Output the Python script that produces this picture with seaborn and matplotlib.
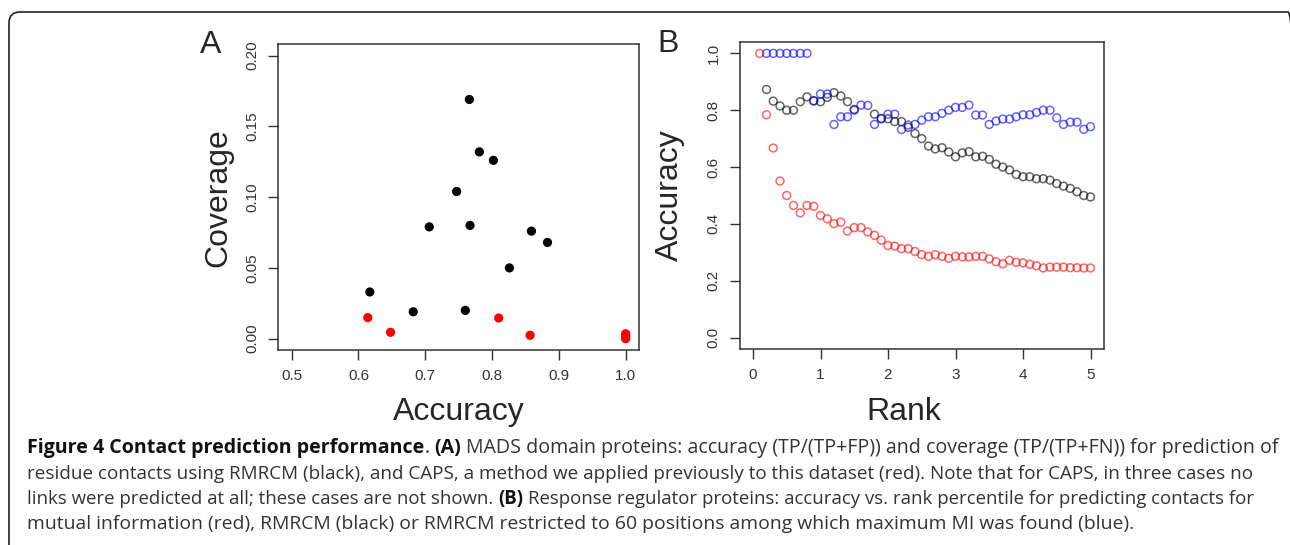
import numpy as np
import pandas as pd
import matplotlib
matplotlib.use("Agg")
import matplotlib.pyplot as plt
from matplotlib.patches import FancyBboxPatch
from matplotlib.transforms import IdentityTransform
import seaborn as sns

# A - MADS domain proteins
acc_rmrcm = [0.617, 0.682, 0.706, 0.747, 0.766, 0.767, 0.760, 0.781, 0.802, 0.826, 0.859, 0.883]
cov_rmrcm = [0.033, 0.019, 0.079, 0.104, 0.169, 0.080, 0.020, 0.132, 0.126, 0.050, 0.076, 0.068]
acc_caps = [0.614, 0.648, 0.810, 0.857, 1.0, 1.0, 1.0]
cov_caps = [0.0149, 0.0045, 0.0146, 0.0024, 0.0035, 0.0017, 0.0]

# B - response regulator proteins
rank = [0.1, 0.2, 0.3, 0.4, 0.5, 0.6, 0.7, 0.8, 0.9, 1.0,
        1.1, 1.2, 1.3, 1.4, 1.5, 1.6, 1.7, 1.8, 1.9, 2.0,
        2.1, 2.2, 2.3, 2.4, 2.5, 2.6, 2.7, 2.8, 2.9, 3.0,
        3.1, 3.2, 3.3, 3.4, 3.5, 3.6, 3.7, 3.8, 3.9, 4.0,
        4.1, 4.2, 4.3, 4.4, 4.5, 4.6, 4.7, 4.8, 4.9, 5.0]
mi_acc = [1.0, 0.784, 0.667, 0.551, 0.5, 0.465, 0.439, 0.465, 0.462, 0.43,
          0.418, 0.401, 0.406, 0.375, 0.387, 0.387, 0.372, 0.36, 0.343, 0.324,
          0.322, 0.313, 0.313, 0.303, 0.292, 0.286, 0.292, 0.286, 0.279, 0.286,
          0.284, 0.284, 0.286, 0.286, 0.277, 0.267, 0.26, 0.272, 0.265, 0.263,
          0.258, 0.253, 0.245, 0.248, 0.248, 0.248, 0.246, 0.246, 0.245, 0.245]
rmrcm_acc = [np.nan, 0.873, 0.832, 0.815, 0.80, 0.80, 0.83, 0.847, 0.833, 0.83,
             0.845, 0.862, 0.85, 0.83, 0.803, np.nan, np.nan, 0.786, 0.77, 0.77,
             0.76, 0.76, 0.74, 0.718, 0.70, 0.674, 0.664, 0.668, 0.653, 0.636,
             0.65, 0.654, 0.636, 0.638, 0.627, 0.61, 0.60, 0.59, 0.574, 0.566,
             0.566, 0.559, 0.559, 0.554, 0.542, 0.533, 0.525, 0.513, 0.50, 0.495]
rmrcm60_acc = [np.nan, 1.0, 1.0, 1.0, 1.0, 1.0, 1.0, 1.0, 0.833, 0.857,
               0.857, 0.75, 0.777, 0.777, 0.80, 0.818, 0.817, 0.75, 0.771, 0.786,
               0.786, 0.732, 0.748, 0.75, 0.765, 0.777, 0.777, 0.789, 0.80, 0.81,
               0.81, 0.818, 0.783, 0.783, 0.75, 0.762, 0.769, 0.769, 0.777, 0.784,
               0.784, 0.792, 0.80, 0.80, 0.773, 0.75, 0.758, 0.758, 0.733, 0.742]

sns.set_theme(style="white")
plt.rcParams["font.family"] = ["Liberation Sans", "DejaVu Sans"]

W, H = 1290, 545
fig = plt.figure(figsize=(W / 100, H / 100), dpi=100)


def px_axes(l, t, r, b):
    return fig.add_axes([l / W, 1 - b / H, (r - l) / W, (b - t) / H])


axA = px_axes(278.3, 44.3, 639, 350)
axB = px_axes(739.5, 42, 1104, 349)

# panel A
sns.scatterplot(x=acc_rmrcm, y=cov_rmrcm, color="black", s=44, edgecolor="none", ax=axA)
sns.scatterplot(x=acc_caps, y=cov_caps, color="red", s=44, edgecolor="none", ax=axA)
axA.set_xlim(0.48, 1.02)
axA.set_ylim(-0.008, 0.208)
axA.set_xticks([0.5, 0.6, 0.7, 0.8, 0.9, 1.0])
axA.set_xticklabels(["0.5", "0.6", "0.7", "0.8", "0.9", "1.0"])
axA.set_yticks([0.0, 0.05, 0.10, 0.15, 0.20])
axA.set_yticklabels(["0.00", "0.05", "0.10", "0.15", "0.20"], rotation=90, va="center")

# panel B
for vals, col in [(mi_acc, (1, 0, 0, 0.6)), (rmrcm_acc, (0, 0, 0, 0.6)), (rmrcm60_acc, (0, 0, 1, 0.6))]:
    sns.scatterplot(x=rank, y=vals, s=32, facecolor="none", edgecolor=col, linewidth=1.1, ax=axB)
axB.set_xlim(-0.2, 5.2)
axB.set_ylim(-0.04, 1.04)
axB.set_xticks([0, 1, 2, 3, 4, 5])
axB.set_xticklabels(["0", "1", "2", "3", "4", "5"])
axB.set_yticks([0.0, 0.2, 0.4, 0.6, 0.8, 1.0])
axB.set_yticklabels(["0.0", "0.2", "0.4", "0.6", "0.8", "1.0"], rotation=90, va="center")

for ax in (axA, axB):
    for sp in ax.spines.values():
        sp.set_color("#333333")
        sp.set_linewidth(1.1)
    ax.tick_params(direction="out", length=7.2, width=1.0, color="#333333",
                   labelsize=11, labelcolor="#333333", pad=6.5, left=True, bottom=True)
    ax.grid(False)

axA.set_xlabel("Accuracy", fontsize=23, va="baseline")
axA.xaxis.set_label_coords(0.5, -(420 - 350) / 305.7)
axA.set_ylabel("Coverage", fontsize=23, va="baseline")
axA.yaxis.set_label_coords((226.5 - 278.3) / 360.7, 0.5)

axB.set_xlabel("Rank", fontsize=23, va="baseline")
axB.xaxis.set_label_coords((904 - 739.5) / 364.5, -(420 - 349) / 307)
axB.set_ylabel("Accuracy", fontsize=23, va="baseline")
axB.yaxis.set_label_coords((678 - 739.5) / 364.5, 0.5)

px = IdentityTransform()
fig.text(200, H - 53.3, "A", fontsize=23, transform=px, va="baseline", ha="left")
fig.text(657, H - 51.7, "B", fontsize=23, transform=px, va="baseline", ha="left")

# outer rounded frame
frame = FancyBboxPatch((9, -40), 1290, H - 12 + 40, boxstyle="round,pad=0,rounding_size=11",
                       transform=px, fill=False, ec="#222222", lw=1.2, clip_on=False)
fig.patches.append(frame)

# caption
cap_lines = [
    [("Figure 4 Contact prediction performance", True, False), (".", False, False),
     ("(A)", True, True), ("MADS domain proteins: accuracy (TP/(TP+FP)) and coverage (TP/(TP+FN)) for prediction of", False, True)],
    [("residue contacts using RMRCM (black), and CAPS, a method we applied previously to this dataset (red). Note that for CAPS, in three cases no", False, False)],
    [("links were predicted at all; these cases are not shown.", False, False), ("(B)", True, True),
     ("Response regulator proteins: accuracy vs. rank percentile for predicting contacts for", False, True)],
    [("mutual information (red), RMRCM (black) or RMRCM restricted to 60 positions among which maximum MI was found (blue).", False, False)],
]
baselines = [453, 479, 504, 529]
line_ends = [1278, 1246, 1250, 1130]
cap_font = ["Open Sans", "DejaVu Sans"]
renderer = fig.canvas.get_renderer()


def draw_line(parts, y, size, draw=True):
    x = 27
    probe = fig.text(0, 0, "x x", fontsize=size, family=cap_font)
    probe2 = fig.text(0, 0, "xx", fontsize=size, family=cap_font)
    sp = probe.get_window_extent(renderer).width - probe2.get_window_extent(renderer).width
    probe.remove()
    probe2.remove()
    for seg, bold, gap in parts:
        if gap:
            x += sp
        t = fig.text(x, y, seg, fontsize=size, family=cap_font,
                     fontweight="bold" if bold else "normal",
                     color="#111111" if bold else "#333333",
                     transform=px, va="baseline", ha="left")
        x = t.get_window_extent(renderer).x1
        if not draw:
            t.remove()
    return x


for parts, b, end in zip(cap_lines, baselines, line_ends):
    natural = draw_line(parts, H - b, 12, draw=False) - 27
    draw_line(parts, H - b, 12 * (end - 27) / natural)

fig.savefig("out.png", dpi=100)
